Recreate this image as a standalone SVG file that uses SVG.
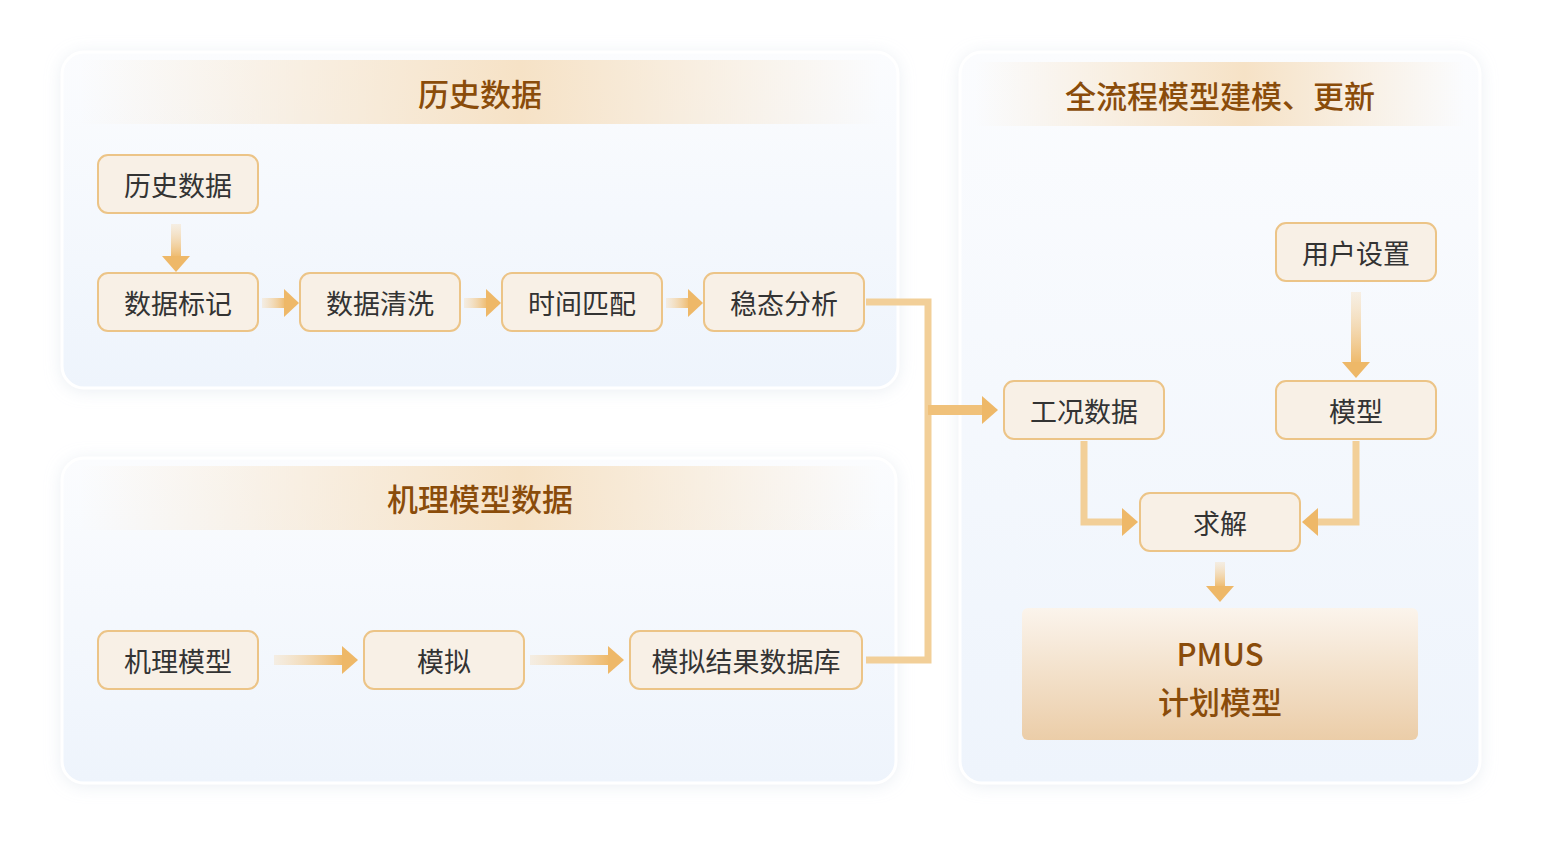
<svg xmlns="http://www.w3.org/2000/svg" width="1541" height="854" viewBox="0 0 1541 854">
<defs>
<linearGradient id="panel" x1="0" y1="0" x2="0" y2="1"><stop offset="0" stop-color="#fbfcfe"/><stop offset="1" stop-color="#eef4fc"/></linearGradient>
<linearGradient id="band" x1="0" y1="0" x2="1" y2="0"><stop offset="0" stop-color="#f6e2c6" stop-opacity="0"/><stop offset="0.55" stop-color="#f6e2c6"/><stop offset="1" stop-color="#f6e2c6" stop-opacity="0"/></linearGradient>
<linearGradient id="gh" x1="0" y1="0" x2="1" y2="0"><stop offset="0" stop-color="#f6dfbd" stop-opacity="0.4"/><stop offset="1" stop-color="#eeb868"/></linearGradient>
<linearGradient id="gv" x1="0" y1="0" x2="0" y2="1"><stop offset="0" stop-color="#f6dfbd" stop-opacity="0.4"/><stop offset="1" stop-color="#eeb868"/></linearGradient>
<linearGradient id="pm" x1="0" y1="0" x2="0" y2="1"><stop offset="0" stop-color="#fbf4ec"/><stop offset="1" stop-color="#ebcda8"/></linearGradient>
<filter id="sh" x="-10%" y="-10%" width="120%" height="120%"><feDropShadow dx="0" dy="2" stdDeviation="8" flood-color="#c8d2e0" flood-opacity="0.35"/></filter>
</defs>
<style>
.panel{fill:url(#panel);stroke:#ffffff;stroke-width:3;filter:url(#sh)}
.node rect{fill:#f8f0e6;stroke:#ecc487;stroke-width:2}
.t{font-family:"Noto Sans CJK SC","Noto Sans",sans-serif;font-size:27px;fill:#333;text-anchor:middle;dominant-baseline:central}
.h{font-family:"Noto Sans CJK SC","Noto Sans",sans-serif;font-size:31px;font-weight:500;fill:#8a4c0a;text-anchor:middle;dominant-baseline:central}
.line{fill:none;stroke:#f2cf98;stroke-width:7}
.hd{fill:#eeb868}
</style>
<rect width="1541" height="854" fill="#ffffff"/>
<g id="panel-history"><rect class="panel" x="62" y="52" width="836" height="336" rx="22"/><rect x="80" y="60" width="800" height="64" fill="url(#band)"/><text class="h" x="480" y="92">历史数据</text></g>
<g id="panel-mech"><rect class="panel" x="62" y="458" width="834" height="325" rx="22"/><rect x="80" y="466" width="800" height="64" fill="url(#band)"/><text class="h" x="480" y="497">机理模型数据</text></g>
<g id="panel-right"><rect class="panel" x="960" y="52" width="520" height="731" rx="22"/><rect x="975" y="62" width="490" height="64" fill="url(#band)"/><text class="h" x="1220" y="94" font-size="32">全流程模型建模、更新</text></g>

<g id="connectors">
<rect x="171" y="224" width="10" height="34" fill="url(#gv)"/><polygon class="hd" points="162,256 190,256 176,272"/>
<rect x="262" y="298" width="24" height="10" fill="url(#gh)"/><polygon class="hd" points="284,289 284,317 299,303"/>
<rect x="464" y="298" width="24" height="10" fill="url(#gh)"/><polygon class="hd" points="486,289 486,317 501,303"/>
<rect x="666" y="298" width="24" height="10" fill="url(#gh)"/><polygon class="hd" points="688,289 688,317 703,303"/>
<rect x="274" y="655" width="70" height="10" fill="url(#gh)"/><polygon class="hd" points="342,646 342,674 358,660"/>
<rect x="530" y="655" width="80" height="10" fill="url(#gh)"/><polygon class="hd" points="608,646 608,674 624,660"/>
<path class="line" d="M866,302 H928 V660 H866"/>
<rect x="928" y="405" width="56" height="10" fill="#f0c17a"/><polygon class="hd" points="982,396 982,424 998,410"/>
<path class="line" d="M1084,441 V522 H1122" stroke="#f3d6a8"/><polygon class="hd" points="1122,508 1122,536 1138,522"/>
<path class="line" d="M1356,441 V522 H1318" stroke="#f3d6a8"/><polygon class="hd" points="1318,508 1318,536 1302,522"/>
<rect x="1351" y="292" width="10" height="72" fill="url(#gv)"/><polygon class="hd" points="1342,362 1370,362 1356,378"/>
<rect x="1215" y="562" width="10" height="26" fill="url(#gv)"/><polygon class="hd" points="1206,586 1234,586 1220,602"/>
</g>

<g id="n-hist" class="node"><rect x="98" y="155" width="160" height="58" rx="10"/><text class="t" x="178" y="184">历史数据</text></g>
<g id="n-mark" class="node"><rect x="98" y="273" width="160" height="58" rx="10"/><text class="t" x="178" y="302">数据标记</text></g>
<g id="n-clean" class="node"><rect x="300" y="273" width="160" height="58" rx="10"/><text class="t" x="380" y="302">数据清洗</text></g>
<g id="n-time" class="node"><rect x="502" y="273" width="160" height="58" rx="10"/><text class="t" x="582" y="302">时间匹配</text></g>
<g id="n-steady" class="node"><rect x="704" y="273" width="160" height="58" rx="10"/><text class="t" x="784" y="302">稳态分析</text></g>
<g id="n-mech" class="node"><rect x="98" y="631" width="160" height="58" rx="10"/><text class="t" x="178" y="660">机理模型</text></g>
<g id="n-sim" class="node"><rect x="364" y="631" width="160" height="58" rx="10"/><text class="t" x="444" y="660">模拟</text></g>
<g id="n-db" class="node"><rect x="630" y="631" width="232" height="58" rx="10"/><text class="t" x="746" y="660">模拟结果数据库</text></g>
<g id="n-user" class="node"><rect x="1276" y="223" width="160" height="58" rx="10"/><text class="t" x="1356" y="252">用户设置</text></g>
<g id="n-cond" class="node"><rect x="1004" y="381" width="160" height="58" rx="10"/><text class="t" x="1084" y="410">工况数据</text></g>
<g id="n-model" class="node"><rect x="1276" y="381" width="160" height="58" rx="10"/><text class="t" x="1356" y="410">模型</text></g>
<g id="n-solve" class="node"><rect x="1140" y="493" width="160" height="58" rx="10"/><text class="t" x="1220" y="522">求解</text></g>
<g id="n-pmus"><rect x="1022" y="608" width="396" height="132" rx="6" fill="url(#pm)"/><text class="h" x="1220" y="652" font-weight="700" font-size="32">PMUS</text><text class="h" x="1220" y="700" font-weight="700" font-size="32">计划模型</text></g>
</svg>
